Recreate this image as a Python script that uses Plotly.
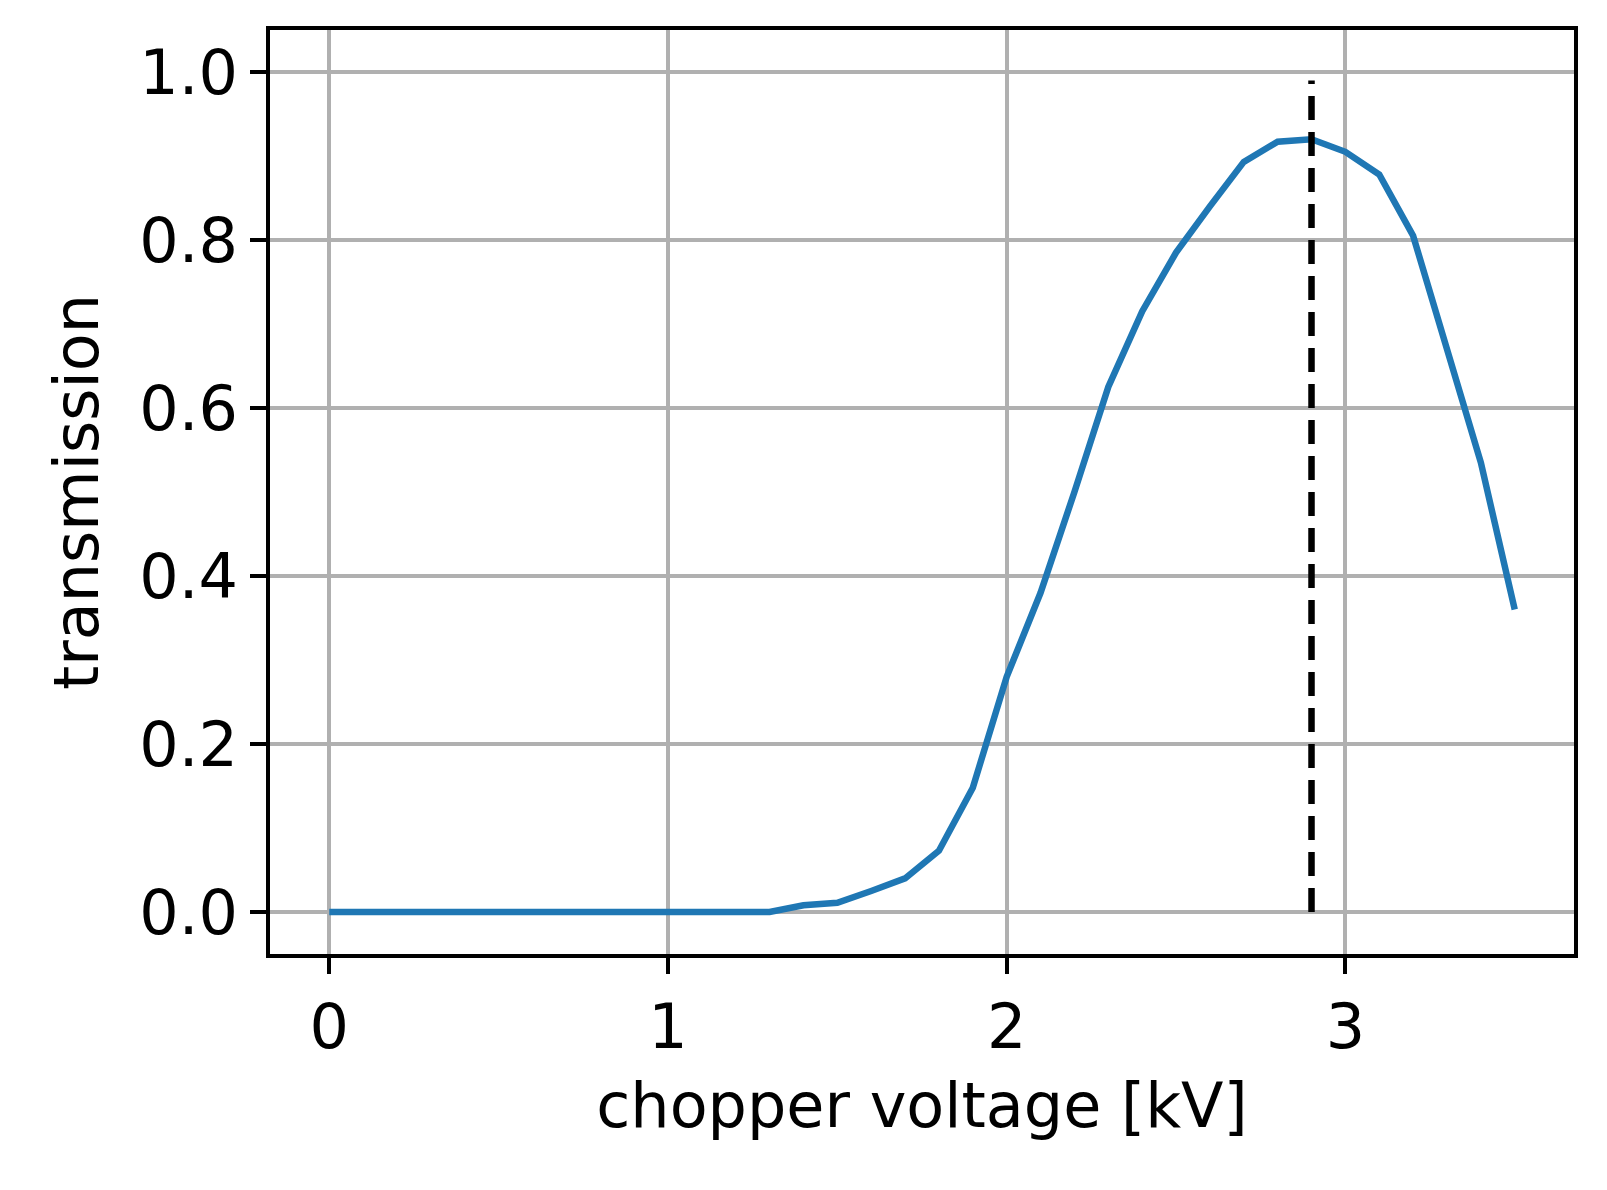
import plotly.graph_objects as go

voltage = [0.0,0.1,0.2,0.3,0.4,0.5,0.6,0.7,0.8,0.9,1.0,1.1,1.2,1.3,1.4,1.5,1.6,1.7,1.8,1.9,2.0,
           2.1,2.2,2.3,2.4,2.5,2.6,2.7,2.8,2.9,3.0,3.1,3.2,3.3,3.4,3.5]
transmission = [0,0,0,0,0,0,0,0,0,0,0,0,0,0,0.008,0.011,0.025,0.04,0.073,0.148,0.28,
                0.38,0.5,0.625,0.715,0.785,0.84,0.893,0.917,0.92,0.905,0.878,0.805,0.67,0.535,0.36]
marker_x = [2.9, 2.9]
marker_y = [0.0, 0.99]

fig = go.Figure()
fig.add_trace(go.Scatter(x=voltage, y=transmission, mode="lines",
                         line=dict(color="#1f77b4", width=6.5), showlegend=False))
fig.add_trace(go.Scatter(x=marker_x, y=marker_y, mode="lines",
                         line=dict(color="black", width=6.5, dash="24px,12px"), showlegend=False))

axis_common = dict(showgrid=True, gridcolor="#b0b0b0", gridwidth=3.5,
                   showline=True, linecolor="black", linewidth=3.5, mirror=True,
                   ticks="outside", ticklen=16, tickwidth=3.5, tickcolor="black",
                   zeroline=False, tickfont=dict(size=62, color="black"),
                   title_font=dict(size=62, color="black"))
fig.update_xaxes(range=[-0.175, 3.675], tickvals=[0, 1, 2, 3], title_standoff=22,
                 title_text="chopper voltage [kV]", **axis_common)
fig.update_yaxes(range=[-0.05, 1.05], tickvals=[0, 0.2, 0.4, 0.6, 0.8, 1.0], title_standoff=22,
                 tickformat=".1f", title_text="transmission", **axis_common)
fig.update_layout(width=1607, height=1190, plot_bgcolor="white", paper_bgcolor="white",
                  font=dict(family="DejaVu Sans", color="black"),
                  margin=dict(l=262, r=41, t=22, b=244, autoexpand=False))
fig.write_html("out.html")
